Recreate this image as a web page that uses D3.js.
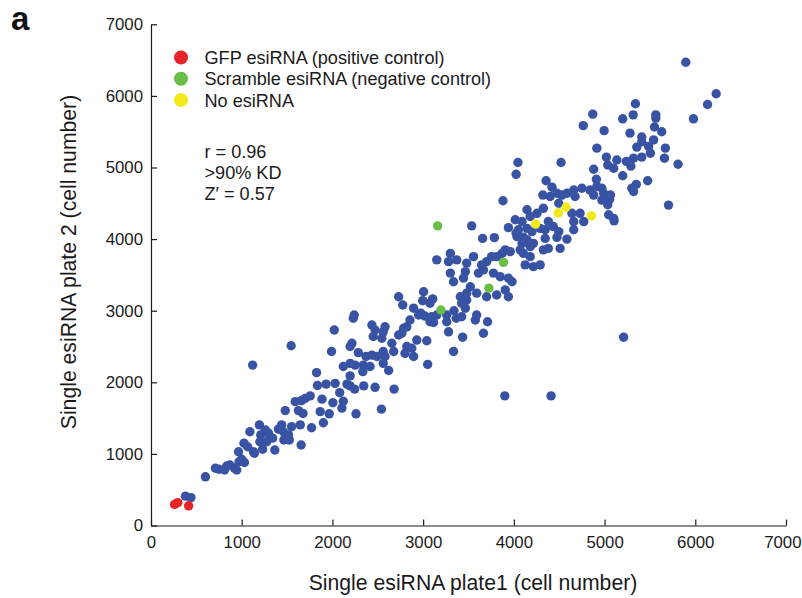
<!DOCTYPE html>
<html><head><meta charset="utf-8">
<script src="https://cdn.jsdelivr.net/npm/d3@7/dist/d3.min.js"></script>
<style>
html,body{margin:0;padding:0;background:#fff;}
svg{display:block;font-family:"Liberation Sans",Arial,Helvetica,sans-serif;}
</style></head>
<body>
<svg id="chart" width="802" height="598"></svg>
<script>
// ---- data (cell numbers) ----
const xTicks = [0,1000,2000,3000,4000,5000,6000,7000];
const yTicks = [0,1000,2000,3000,4000,5000,6000,7000];
const legendLabels = ["GFP esiRNA (positive control)","Scramble esiRNA (negative control)","No esiRNA"];
const statsLines = ["r = 0.96", ">90% KD", "Z\u2032 = 0.57"];

const bluePoints = [
[380,410],[440,390],[600,680],[710,800],[750,785],[810,775],[835,830],[870,845],[920,800],[945,775],[970,890],[965,1030],[1000,925],[1030,880],[1025,1150],[1065,1100],[1130,1030],[1090,1310],[1140,1010],[1195,1405],[1200,1170],[1230,1065],[1210,1265],[1260,1335],[1275,1170],[1295,1290],[1340,1220],[1365,1055],[1405,1345],[1440,1405],[1460,1310],[1465,1195],[1480,1605],[1515,1265],[1525,1195],[1550,1380],[1590,1730],[1625,1605],[1660,1745],[1675,1565],[1655,1125],[1645,1405],[1700,1775],[1755,1810],[1770,1365],[1865,1590],[1885,1765],[1900,1435],[1835,1955],[1930,1975],[1965,1560],[2005,1715],[2030,1985],[2080,1855],[2105,1640],[2120,1735],[2160,1975],[2195,1950],[2245,1905],[2260,1560],[2345,1950],[2470,1930],[2540,1625],[2680,1905],
[1120,2240],[1545,2510],[1825,2135],[2195,2090],[2335,2150],[2620,2165],
[3900,1810],[4410,1810],[5210,2630],
[3040,2580],[3050,2250],[3335,2430],[3435,2630],[3665,2685],[3710,2845],[3590,2940],[3575,2870],[3480,3150],[3425,3105],[3465,3035],[3340,3000],[3425,2915],[3365,2895],[3260,2940],[3260,2845],[3280,2705],[3005,3265],[2995,3140],[3105,3165],[3075,3105],[2975,2965],[2895,3035],[2775,3080],[2730,3195],[2950,2940],[3020,2925],[3095,2915],[3115,2835],[3150,2940],[3075,2845],[2855,2870],[2820,2775],[2785,2755],[2765,2685],[2730,2660],[2655,2545],[2580,2775],[2560,2705],[2470,2730],[2435,2800],[2450,2640],[2545,2615],[2560,2430],[2580,2360],[2490,2360],[2435,2380],[2370,2360],[2285,2415],[2215,2545],[2195,2500],[2240,2940],[2230,2895],[2020,2730],[1990,2430],[2120,2220],[2195,2265],[2250,2240],[2340,2240],[2415,2220],[2560,2265],[2675,2430],[2820,2500],[2875,2475],[2895,2360],[2800,2405],[2930,2590],
[4045,5070],[4025,4905],[3880,4535],[4355,4815],[4420,4725],[4320,4615],[4400,4595],[4475,4640],[4495,4500],[4325,4430],[4145,4410],[4255,4360],[4180,4315],[4015,4270],[4090,4245],[3940,4160],[4050,4130],[4145,4150],[4035,4035],[4105,4025],[4200,4105],[4290,4150],[4345,4130],[4380,4245],[4435,4175],[4495,4105],[4475,4025],[3535,4185],[3655,4010],[3785,4020],[4025,4080],[4090,3940],[4145,3990],[4180,3895],[4215,3940],[4180,3755],[4105,3800],[4070,3850],[3960,3825],[3905,3850],[3870,3800],[3810,3755],[3755,3755],[3700,3685],[3645,3640],[3665,3570],[3610,3525],[3555,3755],[3480,3665],[3465,3545],[3445,3455],[3520,3335],[3335,3405],[3300,3525],[3280,3685],[3300,3800],[3150,3710],[3370,3710],[3775,3525],[3850,3475],[3940,3455],[3980,3405],[3905,3290],[3810,3220],[3940,3195],[3700,3195],[3590,3245],[3480,3245],[3410,3195],[4215,3615],[4125,3640],[4290,3640],[4325,3850],[4380,3870],[4345,4010],[4510,3870],[4585,4000],[4660,4130],[4660,4245],[4770,4245],[5105,4255],
[5895,6470],[6230,6030],[6135,5880],[5980,5680],[5340,5890],[4870,5745],[4765,5585],[5200,5680],[5315,5735],[5565,5735],[5565,5690],[4995,5515],[5280,5480],[5550,5565],[5630,5500],[5410,5425],[5410,5360],[5540,5385],[4915,5270],[5355,5285],[5485,5295],[5670,5270],[5505,5200],[5410,5145],[5020,5145],[5660,5130],[5810,5045],[5135,5105],[5240,5085],[5320,5130],[5035,5035],[5100,4990],[5290,5020],[4880,4975],[4520,5070],[5200,4885],[4910,4835],[5350,4765],[5300,4710],[5320,4665],[5475,4815],[5705,4475],[4915,4735],[4970,4710],[4660,4685],[4750,4710],[4840,4685],[4585,4640],[4880,4615],[4990,4640],[5065,4615],[5055,4555],[4970,4545],[4675,4595],[4530,4615],[5035,4480],[4640,4360],[4730,4360],[5045,4340],[5100,4290]
];
const greenPoints = [[3160,4185],[3885,3675],[3725,3315],[3195,3010]];
const yellowPoints = [[4240,4210],[4490,4365],[4575,4445],[4855,4325]];
const redPoints = [[260,295],[295,320],[415,275]];

const colors = {blue:"#3953a4", red:"#e8242b", green:"#6abd45", yellow:"#f2e81a"};

// ---- drawing ----
const svg = d3.select("#chart");
const x = d3.scaleLinear().domain([0,7000]).range([151,786]);
const y = d3.scaleLinear().domain([0,7000]).range([525.5,24.3]);

const xAxis = svg.append("g").attr("transform",`translate(0,${y(0)})`)
  .call(d3.axisBottom(x).tickValues(xTicks).tickFormat(d3.format("d")).tickSizeInner(-6).tickSizeOuter(0).tickPadding(11));
const yAxis = svg.append("g").attr("transform",`translate(${x(0)},0)`)
  .call(d3.axisLeft(y).tickValues(yTicks).tickFormat(d3.format("d")).tickSizeInner(-6).tickSizeOuter(0).tickPadding(8));
[xAxis,yAxis].forEach(g=>{
  g.selectAll("path,line").attr("stroke","#1a1a1a").attr("stroke-width",1.2);
  g.selectAll("text").attr("font-size",16.8).attr("fill","#1a1a1a").attr("font-family","'Liberation Sans',Arial,sans-serif");
});
// last x label is nudged left so it stays inside the picture, as in the reference
xAxis.selectAll(".tick").filter(d=>d===7000).select("text").attr("text-anchor","end").attr("x",15);

function dots(data,color){
  svg.append("g").selectAll("circle").data(data).join("circle")
    .attr("cx",d=>x(d[0])).attr("cy",d=>y(d[1])).attr("r",4.7).attr("fill",color);
}
dots(bluePoints,colors.blue);
dots(greenPoints,colors.green);
dots(yellowPoints,colors.yellow);
dots(redPoints,colors.red);

// legend
const legColors = [colors.red,colors.green,colors.yellow];
const leg = svg.append("g");
legendLabels.forEach((t,i)=>{
  leg.append("circle").attr("cx",181).attr("cy",57.5+i*21.3).attr("r",7).attr("fill",legColors[i]);
  leg.append("text").attr("x",204.5).attr("y",64+i*21.3).attr("font-size",18.1).attr("fill","#1a1a1a").text(t);
});
statsLines.forEach((t,i)=>{
  svg.append("text").attr("x",204.5).attr("y",157.5+i*21.3).attr("font-size",18.1).attr("fill","#1a1a1a").text(t);
});

// axis titles
svg.append("text").attr("x",473).attr("y",590).attr("text-anchor","middle").attr("font-size",21.2).attr("fill","#1a1a1a")
  .text("Single esiRNA plate1 (cell number)");
svg.append("text").attr("transform","translate(76,262) rotate(-90)").attr("text-anchor","middle").attr("font-size",21.2).attr("fill","#1a1a1a")
  .text("Single esiRNA plate 2 (cell number)");

// panel letter
svg.append("text").attr("x",11).attr("y",30).attr("font-size",33).attr("font-weight","bold").attr("fill","#111").text("a");
</script>
</body></html>
